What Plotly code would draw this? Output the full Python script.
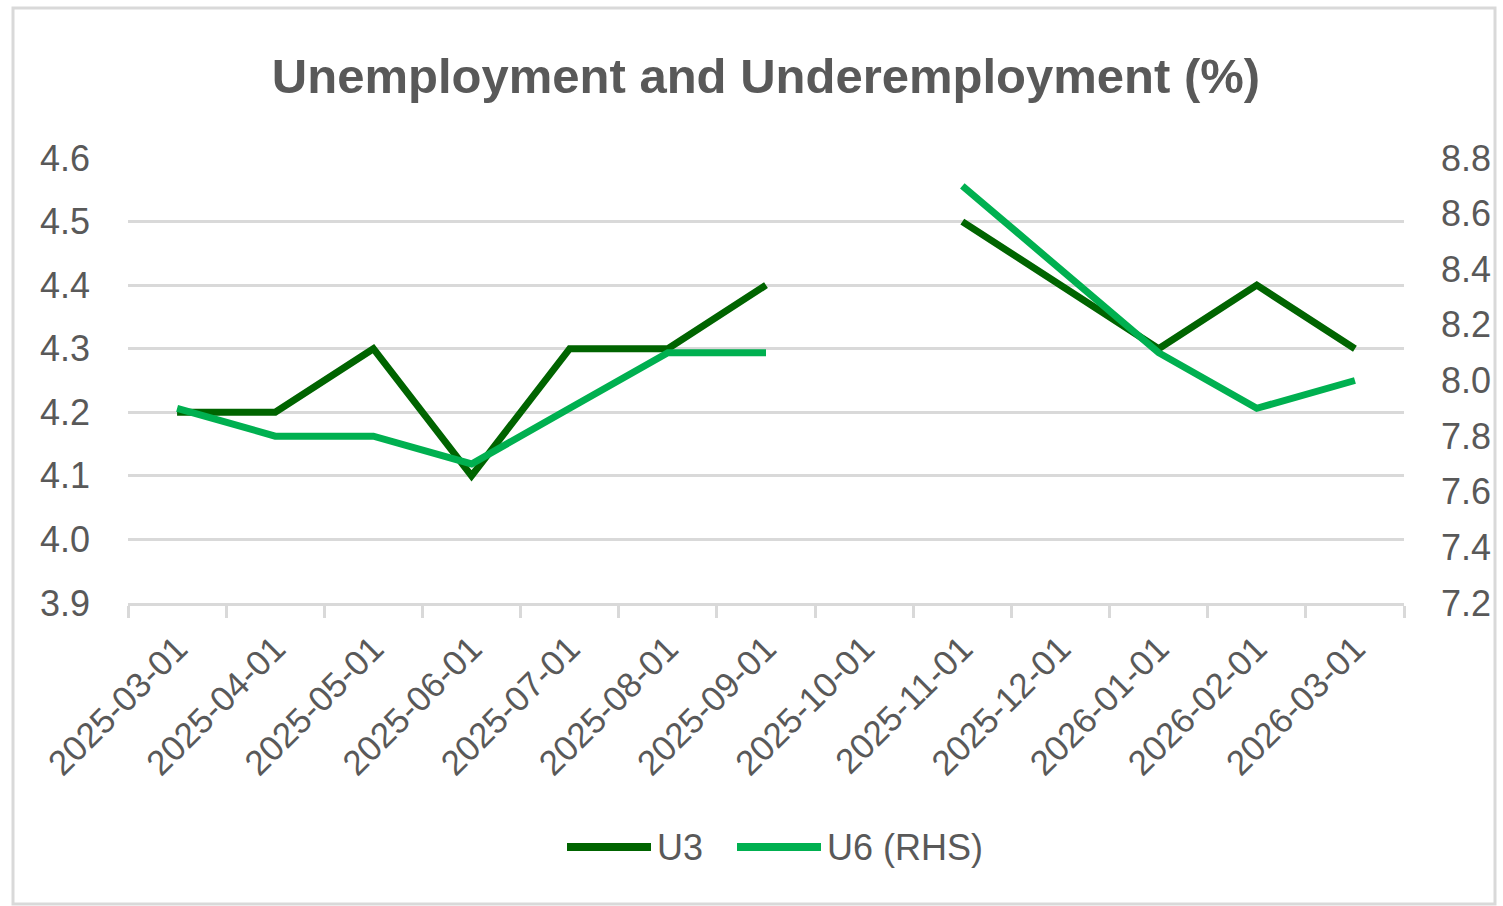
import plotly.graph_objects as go

# Monthly observations
months = ["2025-03-01", "2025-04-01", "2025-05-01", "2025-06-01", "2025-07-01",
          "2025-08-01", "2025-09-01", "2025-10-01", "2025-11-01", "2025-12-01",
          "2026-01-01", "2026-02-01", "2026-03-01"]
u3 = [4.2, 4.2, 4.3, 4.1, 4.3, 4.3, 4.4, None, 4.5, 4.4, 4.3, 4.4, 4.3]
u6 = [7.9, 7.8, 7.8, 7.7, 7.9, 8.1, 8.1, None, 8.7, 8.4, 8.1, 7.9, 8.0]

left_ticks = [3.9, 4.0, 4.1, 4.2, 4.3, 4.4, 4.5, 4.6]
right_ticks = [7.2, 7.4, 7.6, 7.8, 8.0, 8.2, 8.4, 8.6, 8.8]

series_names = ["U3", "U6 (RHS)"]

DARK = "#006400"
BRIGHT = "#00B050"
TEXT = "#595959"
GRID = "#D9D9D9"
FONT = "Liberation Sans Narrow, Arial Narrow, Liberation Sans, sans-serif"

W, H = 1503, 906
L, R, T, B = 128, 99, 158, 303

fig = go.Figure()
fig.add_trace(go.Scatter(x=months, y=u3, name=series_names[0], mode="lines",
                         line=dict(color=DARK, width=7), connectgaps=False,
                         yaxis="y", showlegend=False))
fig.add_trace(go.Scatter(x=months, y=u6, name=series_names[1], mode="lines",
                         line=dict(color=BRIGHT, width=7), connectgaps=False,
                         yaxis="y2", showlegend=False))

pw, ph = W - L - R, H - T - B
def px_x(p):
    return (p - L) / pw
def px_y(p):
    return (H - B - p) / ph

# Legend drawn below the axis: long line swatches followed by labels
legend_y = 847
shapes = [dict(type="rect", xref="paper", yref="paper",
               x0=px_x(13), x1=px_x(1495), y0=px_y(904), y1=px_y(8),
               line=dict(color=GRID, width=3), layer="below")]
annotations = []
for name, color, x0 in [(series_names[0], DARK, 567), (series_names[1], BRIGHT, 737)]:
    shapes.append(dict(type="line", xref="paper", yref="paper",
                       x0=px_x(x0), x1=px_x(x0 + 84), y0=px_y(legend_y), y1=px_y(legend_y),
                       line=dict(color=color, width=8)))
    annotations.append(dict(text=name, xref="paper", yref="paper",
                            x=px_x(x0 + 88), y=px_y(legend_y), xanchor="left",
                            yanchor="middle", showarrow=False,
                            font=dict(family=FONT, size=36, color=TEXT)))

fig.update_layout(
    width=W, height=H,
    margin=dict(l=L, r=R, t=T, b=B),
    paper_bgcolor="white", plot_bgcolor="white",
    font=dict(family=FONT, color=TEXT, size=36),
    title=dict(text="<b>Unemployment and Underemployment (%)</b>",
               x=0.5, xref="paper", xanchor="center",
               y=1 - 76 / H, yanchor="middle",
               font=dict(family=FONT, size=49, color=TEXT)),
    xaxis=dict(type="category", categoryorder="array", categoryarray=months,
               tickson="boundaries", ticks="outside", ticklen=12, tickwidth=3,
               tickcolor=GRID, showline=True, linecolor=GRID, linewidth=3,
               showgrid=False, tickangle=-45, tickfont=dict(size=35),
               ticklabelstandoff=8,
               range=[-0.5, len(months) - 0.5]),
    yaxis=dict(range=[3.9, 4.6], tickvals=left_ticks, tickformat=".1f",
               showgrid=True, gridcolor=GRID, gridwidth=3, zeroline=False,
               showline=False, ticks="", ticklabelstandoff=37,
               tickfont=dict(size=36)),
    yaxis2=dict(range=[7.2, 8.8], tickvals=right_ticks, tickformat=".1f",
                overlaying="y", side="right", showgrid=False, zeroline=False,
                showline=False, ticks="", ticklabelstandoff=36,
                tickfont=dict(size=36)),
    showlegend=False,
    shapes=shapes,
    annotations=annotations,
)

fig.write_html("out.html")
